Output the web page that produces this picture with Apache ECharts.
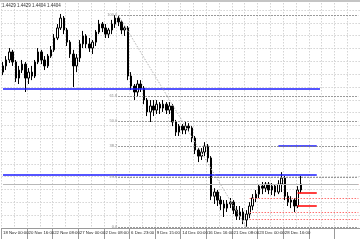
<!DOCTYPE html>
<html><head><meta charset="utf-8">
<script src="https://cdn.jsdelivr.net/npm/echarts@6/dist/echarts.min.js"></script>
<style>html,body{margin:0;padding:0;background:#fff}#c{width:360px;height:240px}</style>
</head><body><div id="c"></div>
<script>
const tickLabels = ["18 Nov 00:00","20 Nov 16:00","22 Nov 08:00","27 Nov 00:00","2 Dec 08:00","6 Dec 23:00","9 Dec 15:00","14 Dec 00:00","16 Dec 16:00","21 Dec 08:00","23 Dec 00:00","28 Dec 16:00"];
const headerValues = ["1.4429","1.4429","1.4404","1.4404"];
const opens = [1.4895,1.4922,1.4948,1.4983,1.4939,1.4869,1.4904,1.4930,1.4869,1.4895,
1.4878,1.4939,1.4983,1.4948,1.4922,1.4965,1.4992,1.5044,1.5088,1.5131,
1.5079,1.5026,1.4974,1.4922,1.4957,1.5018,1.5053,1.5018,1.5000,1.5026,
1.5070,1.5105,1.5088,1.5061,1.5079,1.5105,1.5131,1.5114,1.5079,1.5088,
1.4878,1.4834,1.4808,1.4843,1.4825,1.4773,1.4721,1.4747,1.4729,1.4755,
1.4738,1.4755,1.4729,1.4747,1.4677,1.4633,1.4659,1.4642,1.4659,1.4651,
1.4607,1.4555,1.4528,1.4546,1.4572,1.4520,1.4353,1.4371,1.4336,1.4319,
1.4301,1.4319,1.4327,1.4292,1.4266,1.4284,1.4249,1.4275,1.4310,1.4345,
1.4362,1.4397,1.4388,1.4406,1.4380,1.4397,1.4371,1.4406,1.4432,1.4353,
1.4327,1.4336,1.4310,1.4380];
const closes = [1.4922,1.4948,1.4983,1.4939,1.4869,1.4904,1.4930,1.4869,1.4895,1.4878,
1.4939,1.4983,1.4948,1.4922,1.4965,1.4992,1.5044,1.5088,1.5131,1.5079,
1.5026,1.4974,1.4922,1.4957,1.5018,1.5053,1.5018,1.5000,1.5026,1.5070,
1.5105,1.5088,1.5061,1.5079,1.5105,1.5131,1.5114,1.5079,1.5088,1.4878,
1.4834,1.4808,1.4843,1.4825,1.4773,1.4721,1.4747,1.4729,1.4755,1.4738,
1.4755,1.4729,1.4747,1.4677,1.4633,1.4659,1.4642,1.4659,1.4651,1.4607,
1.4555,1.4528,1.4546,1.4572,1.4520,1.4353,1.4371,1.4336,1.4319,1.4301,
1.4319,1.4327,1.4292,1.4266,1.4284,1.4249,1.4275,1.4310,1.4345,1.4362,
1.4397,1.4388,1.4406,1.4380,1.4397,1.4371,1.4406,1.4432,1.4353,1.4327,
1.4336,1.4310,1.4380,1.4406];
const highs = [1.4939,1.4965,1.5000,1.4992,1.4948,1.4922,1.4948,1.4939,1.4913,1.4922,
1.4948,1.5000,1.4992,1.4965,1.4974,1.5009,1.5061,1.5105,1.5149,1.5140,
1.5088,1.5035,1.4992,1.4974,1.5035,1.5075,1.5061,1.5044,1.5035,1.5079,
1.5123,1.5114,1.5105,1.5088,1.5123,1.5144,1.5144,1.5123,1.5096,1.5096,
1.4895,1.4843,1.4860,1.4860,1.4834,1.4782,1.4773,1.4773,1.4773,1.4764,
1.4773,1.4764,1.4764,1.4755,1.4686,1.4668,1.4668,1.4677,1.4672,1.4659,
1.4616,1.4563,1.4563,1.4589,1.4581,1.4528,1.4388,1.4380,1.4353,1.4336,
1.4336,1.4345,1.4336,1.4310,1.4310,1.4301,1.4292,1.4327,1.4362,1.4380,
1.4406,1.4415,1.4415,1.4415,1.4410,1.4406,1.4423,1.4458,1.4441,1.4371,
1.4353,1.4345,1.4397,1.4441];
const lows = [1.4882,1.4904,1.4935,1.4922,1.4852,1.4843,1.4891,1.4808,1.4843,1.4860,
1.4869,1.4930,1.4930,1.4904,1.4913,1.4957,1.4983,1.5035,1.5079,1.5061,
1.5009,1.4957,1.4830,1.4895,1.4939,1.5000,1.5000,1.4983,1.4974,1.5009,
1.5061,1.5070,1.5044,1.5044,1.5061,1.5088,1.5096,1.5061,1.5053,1.4860,
1.4817,1.4773,1.4790,1.4808,1.4755,1.4703,1.4677,1.4703,1.4712,1.4712,
1.4721,1.4712,1.4712,1.4659,1.4616,1.4616,1.4624,1.4624,1.4633,1.4589,
1.4537,1.4502,1.4511,1.4528,1.4502,1.4336,1.4319,1.4310,1.4292,1.4262,
1.4284,1.4301,1.4275,1.4249,1.4249,1.4231,1.4218,1.4257,1.4292,1.4327,
1.4345,1.4362,1.4371,1.4362,1.4358,1.4353,1.4362,1.4371,1.4336,1.4310,
1.4301,1.4284,1.4301,1.4366];

const slotCount = 112, slotsPerLabel = 8;
const blueLevels = [1.4821, 1.4445, 1.4572];
const blueFrom = [0, 0, 86];
const blueTo = [99, 98, 98];
const fibHigh = 1.5144, fibHighBar = 36, fibLow = 1.4218, fibLowBar = 76;
const fibRatios = [0, 0.236, 0.382, 0.5, 0.618, 1];
const redDotted = [1.4406, 1.4345, 1.4284, 1.4253];
const redDottedFrom = 77;
const redSolid = [1.4366, 1.4310];
const redSolidFrom = 92, redSolidTo = 98;
const bidPrice = 1.4404;

const slots = [];
for (let i = 0; i < slotCount; i++) slots.push(String(i));
const ohlc = opens.map((o, i) => [o, closes[i], lows[i], highs[i]]);

const ml = [];
blueLevels.forEach((p, k) => ml.push([
  {coord: [blueFrom[k], p], lineStyle: {color: '#1c1cff', width: 1.6, type: 'solid'}},
  {coord: [blueTo[k], p]}]));
fibRatios.forEach(r => {
  const p = fibLow + r * (fibHigh - fibLow);
  ml.push([
    {coord: [fibHighBar, p], lineStyle: {color: '#7a7a7a', width: 1, type: [1.5, 1.5]},
     label: {show: true, position: 'start', distance: 1, formatter: (r * 100).toFixed(1), fontSize: 4, color: '#8a8a8a'}},
    {coord: [slotCount - 1, p]}]);
});
ml.push([
  {coord: [fibHighBar, fibHigh], lineStyle: {color: '#b4b4b4', width: 1, type: [1.5, 1.5]}},
  {coord: [fibLowBar, fibLow]}]);
redDotted.forEach(p => ml.push([
  {coord: [redDottedFrom, p], lineStyle: {color: '#ff7070', width: 1, type: [1.5, 1.5]}},
  {coord: [slotCount - 1, p]}]));
redSolid.forEach(p => ml.push([
  {coord: [redSolidFrom, p], lineStyle: {color: '#ff1010', width: 1.6, type: 'solid'}},
  {coord: [redSolidTo, p]}]));
ml.push([
  {coord: [0, bidPrice], lineStyle: {color: '#b8b8b8', width: 1, type: 'solid'}},
  {coord: [slotCount - 1, bidPrice]}]);

const chart = echarts.init(document.getElementById('c'), null, {renderer: 'canvas'});
chart.setOption({
  animation: false,
  backgroundColor: '#ffffff',
  grid: {left: 0, right: 0, top: 0, bottom: 12},
  xAxis: {
    type: 'category', data: slots, boundaryGap: true,
    axisLine: {show: true, lineStyle: {color: '#9a9a9a', width: 1}},
    axisTick: {show: true, interval: slotsPerLabel - 1, length: 11, lineStyle: {color: '#9a9a9a'}},
    axisLabel: {interval: slotsPerLabel - 1, align: 'left', margin: 3, fontSize: 4.3,
      fontFamily: 'Liberation Sans', color: '#222',
      formatter: (v, i) => tickLabels[i / slotsPerLabel] || ''},
    splitLine: {show: true, interval: 3, lineStyle: {color: '#d4d4d4', type: [1.5, 1.5], width: 1}}
  },
  yAxis: [
    {type: 'value', min: 1.4214, max: 1.5210, show: false, splitLine: {show: false}},
    {type: 'value', min: 0, max: 17.78, interval: 1, axisLine: {show: false}, axisTick: {show: false},
     axisLabel: {show: false}, splitLine: {show: true, lineStyle: {color: '#d4d4d4', type: [1.5, 1.5], width: 1}}}
  ],
  graphic: [
    {type: 'rect', left: 0, top: 0, shape: {width: 360, height: 2}, style: {fill: '#c4c4c4'}, z: 100},
    {type: 'text', left: 2, top: 3, style: {text: headerValues.join(' '), fontSize: 4.5, fontFamily: 'Liberation Sans', fill: '#333'}, z: 100}
  ],
  series: [{
    type: 'candlestick', data: ohlc, yAxisIndex: 0, barWidth: 2,
    itemStyle: {color: '#ffffff', color0: '#000000', borderColor: '#000000', borderColor0: '#000000', borderWidth: 1},
    markLine: {symbol: ['none', 'none'], silent: true, animation: false, label: {show: false}, data: ml}
  }]
});
</script></body></html>
